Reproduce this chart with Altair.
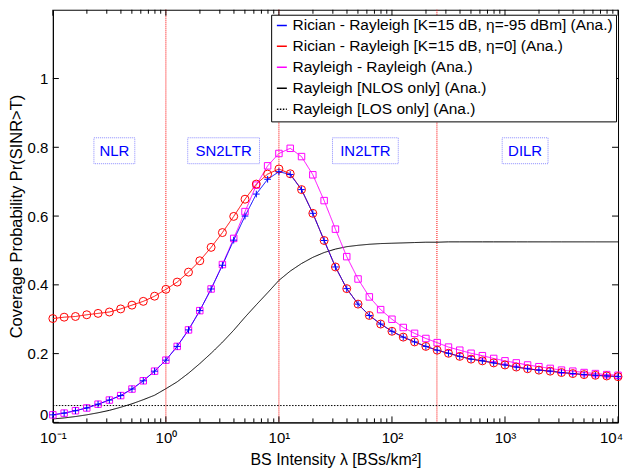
import altair as alt
import pandas as pd

# ---------------- data ----------------
log_lambda = [-1.0, -0.9, -0.8, -0.7, -0.6, -0.5, -0.4, -0.3, -0.2, -0.1, 0.0,
              0.1, 0.2, 0.3, 0.4, 0.5, 0.6, 0.7, 0.8, 0.9, 1.0,
              1.1, 1.2, 1.3, 1.4, 1.5, 1.6, 1.7, 1.8, 1.9, 2.0,
              2.1, 2.2, 2.3, 2.4, 2.5, 2.6, 2.7, 2.8, 2.9, 3.0,
              3.1, 3.2, 3.3, 3.4, 3.5, 3.6, 3.7, 3.8, 3.9, 4.0]

rician_m95 = [0.022, 0.027, 0.034, 0.042, 0.053, 0.065, 0.078, 0.097, 0.121, 0.149, 0.181,
              0.221, 0.269, 0.325, 0.388, 0.457, 0.530, 0.600, 0.664, 0.707, 0.729,
              0.721, 0.677, 0.608, 0.529, 0.452, 0.389, 0.344, 0.311, 0.286, 0.265,
              0.248, 0.234, 0.221, 0.210, 0.201, 0.192, 0.184, 0.179, 0.173, 0.167,
              0.161, 0.156, 0.152, 0.149, 0.145, 0.142, 0.139, 0.137, 0.135, 0.133]

rician_0 = [0.302, 0.306, 0.308, 0.313, 0.317, 0.321, 0.330, 0.341, 0.352, 0.367, 0.387,
            0.408, 0.437, 0.470, 0.509, 0.552, 0.599, 0.649, 0.693, 0.722, 0.737,
            0.723, 0.677, 0.608, 0.529, 0.452, 0.389, 0.344, 0.311, 0.286, 0.265,
            0.248, 0.234, 0.221, 0.210, 0.201, 0.192, 0.184, 0.179, 0.173, 0.167,
            0.161, 0.156, 0.152, 0.149, 0.145, 0.142, 0.139, 0.137, 0.135, 0.133]

rayleigh = [0.022, 0.027, 0.034, 0.042, 0.053, 0.065, 0.078, 0.097, 0.121, 0.149, 0.181,
            0.221, 0.269, 0.325, 0.388, 0.459, 0.535, 0.613, 0.690, 0.746, 0.782,
            0.797, 0.773, 0.720, 0.645, 0.562, 0.482, 0.417, 0.365, 0.328, 0.300,
            0.276, 0.259, 0.244, 0.232, 0.219, 0.210, 0.201, 0.194, 0.186, 0.179,
            0.173, 0.167, 0.162, 0.157, 0.152, 0.149, 0.145, 0.142, 0.139, 0.137]

nlos = [0.010, 0.013, 0.017, 0.022, 0.028, 0.035, 0.044, 0.054, 0.066, 0.079, 0.098,
        0.118, 0.143, 0.171, 0.201, 0.233, 0.268, 0.306, 0.342, 0.377, 0.413,
        0.440, 0.462, 0.480, 0.494, 0.504, 0.511, 0.515, 0.518, 0.520, 0.521,
        0.522, 0.523, 0.524, 0.524, 0.525, 0.525, 0.525, 0.525, 0.525, 0.525,
        0.525, 0.525, 0.525, 0.525, 0.525, 0.525, 0.525, 0.525, 0.525, 0.525]

los_lambda = [0.1, 10000]
los = [0.049, 0.049]

series_names = ["Rician - Rayleigh [K=15 dB, \u03b7=-95 dBm] (Ana.)",
                "Rician - Rayleigh [K=15 dB, \u03b7=0] (Ana.)",
                "Rayleigh - Rayleigh (Ana.)",
                "Rayleigh [NLOS only] (Ana.)",
                "Rayleigh [LOS only] (Ana.)"]

boundaries = [1, 10, 250]
region_names = ["NLR", "SN2LTR", "IN2LTR", "DILR"]
region_lambda = [0.35, 3.24, 58.2, 1507]
region_p = [0.79, 0.79, 0.79, 0.79]

x_major = [0.1, 1, 10, 100, 1000, 10000]
x_major_labels = ["10\u207b\u00b9", "10\u2070", "10\u00b9", "10\u00b2", "10\u00b3", "10\u2074"]
x_minor = [m * d for d in [0.1, 1, 10, 100, 1000] for m in range(2, 10)]
y_ticks = [0, 0.2, 0.4, 0.6, 0.8, 1.0]

# ---------------- styles ----------------
series_colors = ["#0000ff", "#ff0000", "#ff00ff", "#000000", "#000000"]
series_dash = [[1, 0], [1, 0], [1, 0], [1, 0], [1.5, 1.5]]
box_widths = [41, 72, 66, 46]
FONT = "Liberation Sans"
W, H = 567, 414

lam = [10 ** v for v in log_lambda]
rows = []
for name, xs_, ys_ in [(series_names[4], los_lambda, los),
                       (series_names[3], lam, nlos),
                       (series_names[2], lam, rayleigh),
                       (series_names[1], lam, rician_0),
                       (series_names[0], lam, rician_m95)]:
    for a, b in zip(xs_, ys_):
        rows.append({"series": name, "lam": a, "p": b})
df = pd.DataFrame(rows)

xs = alt.Scale(type="log", domain=[0.1, 10000], nice=False)
ys = alt.Scale(domain=[0, 1.2], nice=False, zero=False)

label_expr = "[" + ",".join("'%s'" % s for s in x_major_labels) + "][round(log(datum.value)/LN10)+1]"
xaxis = alt.Axis(values=x_major, labelExpr=label_expr, ticks=False, grid=False,
                 labelFont=FONT, labelFontSize=15, labelPadding=8, labelColor="black",
                 labelOffset={"condition": {"test": "datum.value >= 10000", "value": -7}, "value": 0},
                 title="BS Intensity \u03bb [BSs/km\u00b2]", titleFont=FONT, titleFontSize=16,
                 titleFontWeight="normal", titleColor="black", titlePadding=6,
                 domainColor="black", labelFlush=False)
yaxis = alt.Axis(values=y_ticks, format="~g", ticks=False, grid=False,
                 labelFont=FONT, labelFontSize=15, labelPadding=5, labelColor="black",
                 labelFlush=True,
                 title="Coverage Probability Pr(SINR>T)", titleFont=FONT, titleFontSize=16.5,
                 titleFontWeight="normal", titleColor="black", titlePadding=3,
                 domainColor="black")

X = alt.X("lam:Q", scale=xs, axis=xaxis)
Y = alt.Y("p:Q", scale=ys, axis=yaxis)

leg = alt.Legend(orient="none", legendX=219, legendY=5, title=None,
                 symbolType="stroke", symbolSize=100, symbolStrokeWidth=1.5,
                 labelFont=FONT, labelFontSize=15.5, labelLimit=0, labelColor="black",
                 padding=3, strokeColor="black", fillColor="white",
                 rowPadding=4, labelOffset=3)

lines = alt.Chart(df).mark_line(strokeWidth=1, clip=True).encode(
    x=X, y=Y,
    color=alt.Color("series:N", scale=alt.Scale(domain=series_names, range=series_colors), legend=leg),
    strokeDash=alt.StrokeDash("series:N", scale=alt.Scale(domain=series_names, range=series_dash), legend=leg),
)

df_ray = pd.DataFrame({"lam": lam, "p": rayleigh})
df_r0 = pd.DataFrame({"lam": lam, "p": rician_0})
df_r95 = pd.DataFrame({"lam": lam, "p": rician_m95})

pts_ray = alt.Chart(df_ray).mark_point(shape="square", size=42, filled=False, color="#ff00ff",
                                        strokeWidth=1, opacity=1).encode(x=X, y=Y)
pts_r0 = alt.Chart(df_r0).mark_point(shape="circle", size=64, filled=False, color="#ff0000",
                                      strokeWidth=1, opacity=1).encode(x=X, y=Y)
pts_r95 = alt.Chart(df_r95).mark_point(shape="M-1,0H1M0,-1V1", size=45, filled=False, color="#0000ff",
                                        strokeWidth=1, opacity=1).encode(x=X, y=Y)

df_bound = pd.DataFrame({"lam": boundaries})
vlines = alt.Chart(df_bound).mark_rule(color="#ff0000", strokeDash=[1, 1], strokeWidth=1).encode(x=X)

# region labels with dotted boxes
region_layers = []
for name, lx, py, bw in zip(region_names, region_lambda, region_p, box_widths):
    d = pd.DataFrame({"lam": [lx], "p": [py], "name": [name]})
    region_layers.append(alt.Chart(d).mark_rect(width=bw, height=26, fill="white", fillOpacity=0,
                                                 stroke="#8c8cff", strokeDash=[1, 1], strokeWidth=1)
                         .encode(x=X, y=Y))
    region_layers.append(alt.Chart(d).mark_text(font=FONT, fontSize=15, color="#0000ff",
                                                 baseline="middle", align="center")
                         .encode(x=X, y=Y, text="name:N"))

# inward ticks
df_xmaj = pd.DataFrame({"lam": x_major})
df_xmin = pd.DataFrame({"lam": x_minor})
df_y = pd.DataFrame({"p": y_ticks})
tick_layers = [
    alt.Chart(df_xmaj).mark_rule(color="black").encode(x=X, y=alt.value(H), y2=alt.value(H - 6)),
    alt.Chart(df_xmin).mark_rule(color="black").encode(x=X, y=alt.value(H), y2=alt.value(H - 4)),
    alt.Chart(df_xmaj).mark_rule(color="black").encode(x=X, y=alt.value(0), y2=alt.value(6)),
    alt.Chart(df_xmin).mark_rule(color="black").encode(x=X, y=alt.value(0), y2=alt.value(4)),
    alt.Chart(df_y).mark_rule(color="black").encode(y=Y, x=alt.value(0), x2=alt.value(6)),
    alt.Chart(df_y).mark_rule(color="black").encode(y=Y, x=alt.value(W), x2=alt.value(W - 6)),
]

chart = alt.layer(
    vlines, *tick_layers, lines, pts_ray, pts_r0, pts_r95, *region_layers
).properties(
    width=W, height=H, padding={"left": 0, "top": 0, "right": 0, "bottom": 0},
    background="white"
).configure_view(
    stroke="black", strokeWidth=1
)

chart.save("out.html", embed_options={"renderer": "svg", "actions": False})
